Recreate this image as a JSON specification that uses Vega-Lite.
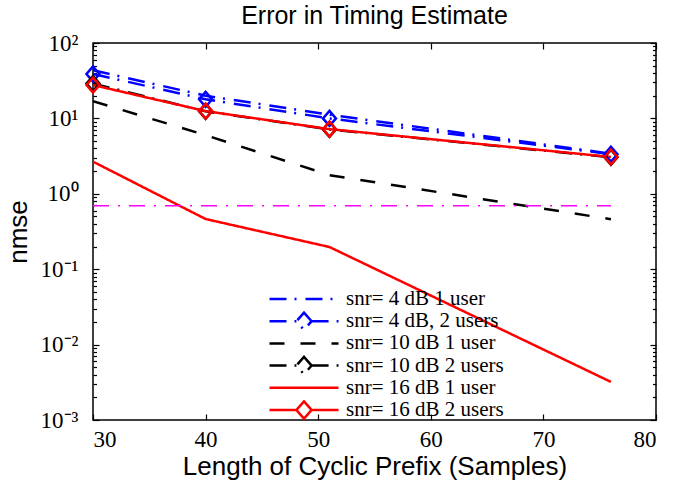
{
  "$schema": "https://vega.github.io/schema/vega-lite/v6.json",
  "width": 563,
  "height": 377,
  "autosize": "none",
  "padding": {"left": 93, "top": 43, "right": 32, "bottom": 67},
  "background": "white",
  "config": {
    "view": {"stroke": "black", "strokeWidth": 1.5},
    "axis": {"grid": false, "domain": false, "tickColor": "black", "labelColor": "black", "tickWidth": 1.2}
  },
  "title": {"text": "Error in Timing Estimate", "font": "Liberation Sans", "fontSize": 25, "fontWeight": "normal", "color": "black", "offset": 3, "anchor": "middle"},
  "datasets": {
    "curves": [
      {"x": 30, "y": 43.5, "series": "snr= 4 dB 1 user"},
      {"x": 40, "y": 20.0, "series": "snr= 4 dB 1 user"},
      {"x": 51, "y": 11.2, "series": "snr= 4 dB 1 user"},
      {"x": 76, "y": 3.4, "series": "snr= 4 dB 1 user"},
      {"x": 30, "y": 38.8, "series": "snr= 4 dB, 2 users"},
      {"x": 40, "y": 17.9, "series": "snr= 4 dB, 2 users"},
      {"x": 51, "y": 10.0, "series": "snr= 4 dB, 2 users"},
      {"x": 76, "y": 3.35, "series": "snr= 4 dB, 2 users"},
      {"x": 30, "y": 16.9, "series": "snr= 10 dB 1 user"},
      {"x": 40, "y": 6.0, "series": "snr= 10 dB 1 user"},
      {"x": 51, "y": 1.77, "series": "snr= 10 dB 1 user"},
      {"x": 76, "y": 0.46, "series": "snr= 10 dB 1 user"},
      {"x": 30, "y": 29.0, "series": "snr= 10 dB 2 users"},
      {"x": 40, "y": 12.4, "series": "snr= 10 dB 2 users"},
      {"x": 51, "y": 7.15, "series": "snr= 10 dB 2 users"},
      {"x": 76, "y": 3.05, "series": "snr= 10 dB 2 users"},
      {"x": 30, "y": 2.67, "series": "snr= 16 dB 1 user"},
      {"x": 40, "y": 0.463, "series": "snr= 16 dB 1 user"},
      {"x": 51, "y": 0.197, "series": "snr= 16 dB 1 user"},
      {"x": 76, "y": 0.0032, "series": "snr= 16 dB 1 user"},
      {"x": 30, "y": 27.7, "series": "snr= 16 dB 2 users"},
      {"x": 40, "y": 12.5, "series": "snr= 16 dB 2 users"},
      {"x": 51, "y": 7.2, "series": "snr= 16 dB 2 users"},
      {"x": 76, "y": 3.08, "series": "snr= 16 dB 2 users"}
    ],
    "ref": [
      {"x": 30, "y": 0.695},
      {"x": 76, "y": 0.695}
    ]
  },
  "resolve": {"axis": {"x": "independent", "y": "independent"}},
  "layer": [
    {
      "data": {"name": "curves"},
      "transform": [{"filter": "indexof(datum.series, 'users') < 0"}],
      "mark": {"type": "line", "strokeWidth": 2.5, "clip": true},
      "encoding": {
        "x": {"field": "x", "type": "quantitative",
          "scale": {"domain": [30, 80], "nice": false, "zero": false},
          "axis": {"orient": "bottom", "values": [30, 40, 50, 60, 70, 80], "tickSize": -6, "labelPadding": 14,
            "labelFont": "Liberation Serif", "labelFontSize": 23,
            "title": "Length of Cyclic Prefix (Samples)", "titleFont": "Liberation Sans", "titleFontSize": 26, "titleFontWeight": "normal", "titleColor": "black", "titlePadding": 2}},
        "y": {"field": "y", "type": "quantitative",
          "scale": {"type": "log", "domain": [0.001, 100], "nice": false},
          "axis": {"orient": "left", "values": [0.001, 0.01, 0.1, 1, 10, 100], "tickSize": -6, "labelPadding": 21,
            "labelFont": "Liberation Serif", "labelFontSize": 23,
            "labelExpr": "datum.value > 50 ? '10²' : datum.value > 5 ? '10¹' : datum.value > 0.5 ? '10⁰' : datum.value > 0.05 ? '10⁻¹' : datum.value > 0.005 ? '10⁻²' : '10⁻³'",
            "title": "nmse", "titleFont": "Liberation Sans", "titleFontSize": 26, "titleFontWeight": "normal", "titleColor": "black", "titlePadding": 9}},
        "color": {"field": "series", "type": "nominal",
          "scale": {"domain": ["snr= 4 dB 1 user", "snr= 4 dB, 2 users", "snr= 10 dB 1 user", "snr= 10 dB 2 users", "snr= 16 dB 1 user", "snr= 16 dB 2 users"],
            "range": ["#0000ff", "#0000ff", "#000000", "#000000", "#ff0000", "#ff0000"]},
          "legend": {"title": null, "orient": "none", "legendX": 175, "legendY": 245.5, "padding": 0,
            "symbolType": "stroke", "symbolSize": 4761, "symbolStrokeWidth": 2.5, "clipHeight": 21, "rowPadding": 0.2,
            "labelFont": "Liberation Serif", "labelFontSize": 21, "labelColor": "black", "labelOffset": 6, "labelLimit": 300,
            "encode": {"symbols": {"update": {"shape": {"signal": "indexof(datum.value, 'users') >= 0 ? 'M-1,0H-0.22M0.22,0H1M0,-0.25L0.22,0L0,0.25L-0.22,0Z' : 'stroke'"}}}}}},
        "strokeDash": {"field": "series", "type": "nominal",
          "scale": {"domain": ["snr= 4 dB 1 user", "snr= 4 dB, 2 users", "snr= 10 dB 1 user", "snr= 10 dB 2 users", "snr= 16 dB 1 user", "snr= 16 dB 2 users"],
            "range": [[17, 8, 2, 9], [17, 8, 2, 9], [15, 16], [17, 8, 2, 9], [1, 0], [1, 0]]}}
      }
    },
    {
      "data": {"name": "curves"},
      "transform": [{"filter": "indexof(datum.series, 'users') >= 0"}],
      "mark": {"type": "line", "strokeWidth": 2.5, "clip": true},
      "encoding": {
        "x": {"field": "x", "type": "quantitative",
          "axis": {"orient": "top", "values": [30, 40, 50, 60, 70, 80], "tickSize": -6, "labels": false, "title": null}},
        "y": {"field": "y", "type": "quantitative",
          "axis": {"orient": "right", "values": [0.001, 0.01, 0.1, 1, 10, 100], "tickSize": -6, "labels": false, "title": null}},
        "color": {"field": "series", "type": "nominal"},
        "strokeDash": {"field": "series", "type": "nominal"}
      }
    },
    {
      "data": {"name": "curves"},
      "transform": [{"filter": "indexof(datum.series, 'users') >= 0"}],
      "mark": {"type": "point", "shape": "M0,-1.15L1,0L0,1.15L-1,0Z", "size": 169, "filled": false, "strokeWidth": 2.5, "opacity": 1},
      "encoding": {
        "x": {"field": "x", "type": "quantitative", "axis": null},
        "y": {"field": "y", "type": "quantitative",
          "axis": {"orient": "left", "values": [0.002, 0.003, 0.004, 0.005, 0.006, 0.007, 0.008, 0.009, 0.02, 0.03, 0.04, 0.05, 0.06, 0.07, 0.08, 0.09, 0.2, 0.3, 0.4, 0.5, 0.6, 0.7, 0.8, 0.9, 2, 3, 4, 5, 6, 7, 8, 9, 20, 30, 40, 50, 60, 70, 80, 90], "tickSize": -3.5, "labels": false, "title": null}},
        "color": {"field": "series", "type": "nominal", "legend": null}
      }
    },
    {
      "data": {"name": "ref"},
      "mark": {"type": "line", "color": "#ff00ff", "strokeWidth": 1.5, "strokeDash": [16, 9, 2, 9]},
      "encoding": {
        "x": {"field": "x", "type": "quantitative", "axis": null},
        "y": {"field": "y", "type": "quantitative",
          "axis": {"orient": "right", "values": [0.002, 0.003, 0.004, 0.005, 0.006, 0.007, 0.008, 0.009, 0.02, 0.03, 0.04, 0.05, 0.06, 0.07, 0.08, 0.09, 0.2, 0.3, 0.4, 0.5, 0.6, 0.7, 0.8, 0.9, 2, 3, 4, 5, 6, 7, 8, 9, 20, 30, 40, 50, 60, 70, 80, 90], "tickSize": -3.5, "labels": false, "title": null}}
      }
    }
  ]
}
